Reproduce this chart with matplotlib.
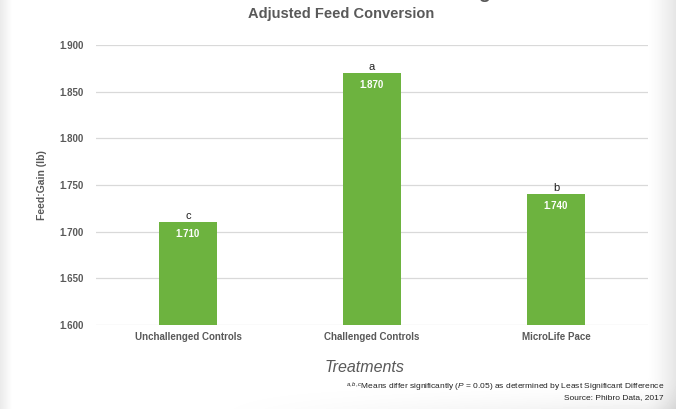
import numpy as np
import matplotlib.pyplot as plt

plt.rcParams['font.family'] = 'Liberation Sans'
plt.rcParams['mathtext.fontset'] = 'custom'
plt.rcParams['mathtext.rm'] = 'Liberation Sans'
plt.rcParams['mathtext.it'] = 'Liberation Sans:italic'

treatments = ['Unchallenged Controls', 'Challenged Controls', 'MicroLife Pace']
feed_gain = [1.710, 1.870, 1.740]
letters = ['c', 'a', 'b']
yticks = [1.600, 1.650, 1.700, 1.750, 1.800, 1.850, 1.900]

grey = '#595959'
green = '#6db33f'

fig = plt.figure(figsize=(6.76, 4.09), dpi=100)
fig.patch.set_facecolor('white')

# soft shadow around the card
bg = fig.add_axes([0, 0, 1, 1], zorder=-10)
xs = np.linspace(0, 1, 676)
ys = np.linspace(0, 1, 409)
X, Y = np.meshgrid(xs, ys)
shade = np.zeros_like(X)
shade += np.clip((0.018 - X) / 0.018, 0, 1) * 0.08
shade += np.clip((X - 0.955) / 0.045, 0, 1) ** 1.5 * 0.10
shade += np.clip((0.08 - (1 - Y)) / 0.08, 0, 1) ** 2 * 0.06 * np.clip((X - 0.3) / 0.7, 0, 1)
bg.imshow(1 - shade, cmap='gray', vmin=0, vmax=1, extent=[0, 1, 0, 1], aspect='auto')
bg.axis('off')

ax = fig.add_axes([96 / 676, 1 - 325 / 409, 552 / 676, 280 / 409])
ax.set_facecolor('none')
x = np.arange(len(treatments))
bars = ax.bar(x, feed_gain, width=0.315, color=green, zorder=3)

ax.set_ylim(1.6, 1.9)
ax.set_xlim(-0.5, 2.5)
ax.set_yticks(yticks)
ax.set_yticklabels([f'{v:.3f}' for v in yticks])
ax.set_xticks(x)
ax.set_xticklabels(treatments)
ax.yaxis.grid(True, color='#d9d9d9', linewidth=0.9, zorder=0)
ax.tick_params(length=0, labelsize=7, colors=grey, pad=5)
for lbl in ax.get_xticklabels() + ax.get_yticklabels():
    lbl.set_fontweight('bold')
ax.tick_params(axis='y', pad=9)
for s in ax.spines.values():
    s.set_visible(False)

for b, v, l in zip(bars, feed_gain, letters):
    cx = b.get_x() + b.get_width() / 2
    ax.text(cx, v - 0.0128, f'{v:.3f}', ha='center', va='center', color='white',
            fontsize=7, fontweight='bold', zorder=4)
    ax.text(cx, v + 0.0065, l, ha='center', va='center', color='#222222', fontsize=8)

ax.set_ylabel('Feed:Gain (lb)', fontsize=7.5, fontweight='bold', color=grey, labelpad=9)

# cut-off main title line above
fig.text(484 / 676, 1 + 1.5 / 409, 'g', ha='center', va='baseline',
         fontsize=14, fontweight='bold', color=grey)
fig.text(341 / 676, 1 - 14 / 409, 'Adjusted Feed Conversion', ha='center', va='center',
         fontsize=10.5, fontweight='bold', color=grey)
fig.text(365 / 676, 1 - 367 / 409, 'Treatments', ha='center', va='center',
         fontsize=11.5, style='italic', color=grey)
fig.text(664 / 676, 1 - 387 / 409,
         r'$^{a,b,c}$Means differ significantly ($\it{P}$ = 0.05) as determined by Least Significant Difference',
         ha='right', va='center', fontsize=6, color='#222222')
fig.text(664 / 676, 1 - 398 / 409, 'Source: Phibro Data, 2017', ha='right', va='center',
         fontsize=6, color='#222222')

fig.savefig('out.png', dpi=100)
plt.close(fig)
